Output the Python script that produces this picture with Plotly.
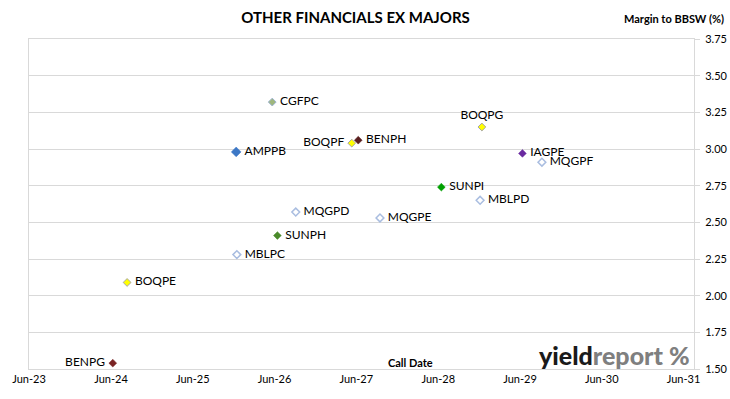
import plotly.graph_objects as go

# ---- data ----
securities = ["CGFPC", "BOQPG", "BOQPF", "BENPH", "AMPPB", "IAGPE", "MQGPF", "SUNPI",
              "MBLPD", "MQGPD", "MQGPE", "SUNPH", "MBLPC", "BOQPE", "BENPG"]
call_dates = ["2026-05-22", "2028-12-13", "2027-05-12", "2027-06-10", "2025-12-12",
              "2029-06-12", "2029-09-07", "2028-06-15", "2028-12-05", "2026-09-04",
              "2027-09-15", "2026-06-14", "2025-12-15", "2024-08-12", "2024-06-09"]
margins = [3.32, 3.15, 3.04, 3.06, 2.98, 2.97, 2.91, 2.74,
           2.65, 2.57, 2.53, 2.41, 2.28, 2.09, 1.54]
x_tick_dates = ["2023-06-01", "2024-06-01", "2025-06-01", "2026-06-01", "2027-06-01",
                "2028-06-01", "2029-06-01", "2030-06-01", "2031-06-01"]
x_tick_labels = ["Jun-23", "Jun-24", "Jun-25", "Jun-26", "Jun-27",
                 "Jun-28", "Jun-29", "Jun-30", "Jun-31"]
y_ticks = [1.50, 1.75, 2.00, 2.25, 2.50, 2.75, 3.00, 3.25, 3.50, 3.75]

# ---- styles ----
fill_colors = ["#9fb77e", "#ffff00", "#ffff00", "#5a1f1f", "#3d78c6", "#6a2aa0", "#ffffff",
               "#00a000", "#ffffff", "#ffffff", "#ffffff", "#4a8a2a", "#ffffff", "#ffff00", "#7a2424"]
line_colors = ["#9db3d3", "#a6a6a6", "#a6a6a6", "#5a1f1f", "#3d78c6", "#6a2aa0", "#a9bde0",
               "#00a000", "#a9bde0", "#a9bde0", "#a9bde0", "#4a8a2a", "#a9bde0", "#a6a6a6", "#7a2424"]
line_widths = [1, 1, 1, 0.5, 0.5, 0.5, 1.5, 0.5, 1.5, 1.5, 1.5, 0.5, 1.5, 1, 0.5]
sizes = [6, 6, 6, 6, 7.5, 6, 6, 6, 6, 6, 6, 6, 6, 6, 6]
text_positions = ["middle right", "top center", "middle left", "middle right", "middle right",
                  "middle right", "middle right", "middle right", "middle right", "middle right",
                  "middle right", "middle right", "middle right", "middle right", "middle left"]

FONT = "Lato"

fig = go.Figure()
fig.add_trace(go.Scatter(
    x=call_dates, y=margins, mode="markers+text",
    text=[" " + s + " " for s in securities],
    textposition=text_positions,
    textfont=dict(family=FONT, size=12, color="#000000"),
    marker=dict(symbol="diamond", size=sizes, color=fill_colors, opacity=1,
                line=dict(color=line_colors, width=line_widths)),
    showlegend=False, hoverinfo="x+y+text", cliponaxis=False,
))

fig.update_layout(
    width=730, height=399,
    margin=dict(l=29, r=36, t=39, b=30),
    paper_bgcolor="#ffffff", plot_bgcolor="#ffffff",
    font=dict(family=FONT, size=11, color="#000000"),
    title=dict(text="<b>OTHER FINANCIALS EX MAJORS</b>", x=0.487, xanchor="center",
               y=0.955, yanchor="middle", font=dict(family=FONT, size=15, color="#000000")),
    xaxis=dict(type="date", range=["2023-06-01", "2031-07-18"], automargin=False,
               tickvals=x_tick_dates, ticktext=x_tick_labels, showgrid=False,
               showline=True, linecolor="#d9d9d9", linewidth=1, mirror=True,
               ticks="", tickfont=dict(family=FONT, size=11), zeroline=False),
    yaxis=dict(range=[1.5, 3.75], side="right", tickvals=y_ticks, automargin=False,
               ticktext=[f"{v:.2f}" for v in y_ticks],
               showgrid=True, gridcolor="#d9d9d9", gridwidth=1,
               showline=True, linecolor="#d9d9d9", linewidth=1, mirror=True,
               ticks="outside", ticklen=5, tickcolor="#d9d9d9", ticklabelstandoff=3,
               tickfont=dict(family=FONT, size=11), zeroline=False),
    annotations=[
        dict(text="<b>Margin to BBSW (%)</b>", xref="paper", yref="paper",
             x=1.048, y=1.0, yshift=21, xanchor="right", yanchor="middle",
             showarrow=False, font=dict(family=FONT, size=11)),
        dict(text="<b>Call Date</b>", xref="paper", yref="paper",
             x=0.574, y=0.0, yshift=7, xanchor="center", yanchor="middle",
             showarrow=False, font=dict(family=FONT, size=11)),
        dict(text="<span style='color:#1a1a1a'>yield</span><span style='color:#7f7f7f'>report</span>"
                  " <span style='color:#7f7f7f'>%</span>",
             xref="paper", yref="paper", x=0.997, y=0.0, yshift=14,
             xanchor="right", yanchor="middle", showarrow=False,
             font=dict(family=FONT, size=25, weight=900)),
    ],
)

fig.write_html("out.html", config={"displayModeBar": False},
               post_script="document.body.style.margin='0';")
